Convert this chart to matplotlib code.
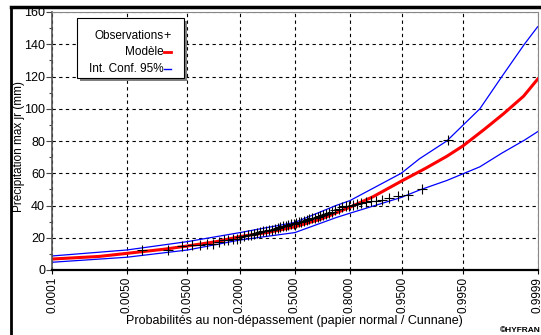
import matplotlib
matplotlib.use("Agg")
import matplotlib.pyplot as plt
from matplotlib.patches import Rectangle
from matplotlib.lines import Line2D
from statistics import NormalDist

plt.rcParams['font.family'] = ['Liberation Sans', 'DejaVu Sans']

# tick probabilities on the normal-probability axis
prob_ticks = [0.0001, 0.005, 0.05, 0.2, 0.5, 0.8, 0.95, 0.995, 0.9999]
prob_labels = ['0.0001', '0.0050', '0.0500', '0.2000', '0.5000',
               '0.8000', '0.9500', '0.9950', '0.9999']

# fitted model quantiles (mm)
model_p = [0.0001, 0.00135, 0.005, 0.0228, 0.05, 0.1151, 0.2, 0.3446, 0.5,
           0.6554, 0.8, 0.8849, 0.95, 0.9772, 0.99, 0.995, 0.9981, 0.99931,
           0.99977, 0.9999]
model_q = [6.8, 8.4, 10.3, 12.9, 14.9, 17.6, 20.7, 23.4, 26.8,
           31.6, 38.9, 45.5, 55.4, 63.0, 70.5, 77.0, 87.0, 97.0,
           107.8, 118.4]

# 95% confidence bounds (mm)
ci_p = [0.0001, 0.005, 0.05, 0.2, 0.5, 0.736, 0.8, 0.9484, 0.9719, 0.99,
        0.9977, 0.99924, 0.99978, 0.9999]
upper_q = [8.7, 12.4, 17.6, 23.2, 29.5, 40.0, 43.0, 60.0, 69.0, 80.0,
           100.0, 120.0, 140.0, 150.9]
lower_q = [4.8, 7.9, 12.4, 18.6, 23.2, 32.5, 35.2, 45.0, 49.6, 55.5,
           64.0, 72.5, 80.5, 85.8]

# annual max daily precipitation, sorted (mm)
obs = [12.4, 12.4, 15.0, 15.5, 15.5, 16.0, 16.0, 17.5, 18.5, 18.5,
       19.0, 19.5, 20.5, 21.0, 21.5, 22.0, 22.5, 23.0, 23.5, 24.0,
       24.0, 24.5, 25.0, 25.5, 26.0, 26.5, 27.0, 27.5, 28.0, 28.5,
       28.8, 29.0, 29.5, 30.0, 30.5, 31.0, 31.5, 32.0, 32.5, 33.0,
       33.5, 34.0, 35.0, 35.5, 36.0, 37.0, 38.0, 39.0, 39.5, 40.0,
       40.5, 41.0, 41.5, 42.0, 42.5, 43.0, 43.5, 44.8, 45.9, 46.5,
       50.2, 80.6]

z = NormalDist().inv_cdf
n = len(obs)
# Cunnane plotting positions
obs_p = [(i - 0.4) / (n + 0.2) for i in range(1, n + 1)]

fig = plt.figure(figsize=(5.41, 3.35), dpi=100)
ax = fig.add_axes([52 / 541, 1 - 270 / 335, (537.7 - 52) / 541, (270 - 12) / 335])

ax.plot([z(p) for p in ci_p], upper_q, color='#0000ff', lw=0.9)
ax.plot([z(p) for p in ci_p], lower_q, color='#0000ff', lw=0.9)
ax.plot([z(p) for p in model_p], model_q, color='#ff0000', lw=2.2)
ax.plot([z(p) for p in obs_p], obs, ls='none', marker='+', color='black',
        ms=7, mew=0.8)

ax.set_xlim(z(0.0001), z(0.9999))
ax.set_ylim(0, 160)
ax.set_xticks([z(p) for p in prob_ticks])
ax.set_xticklabels(prob_labels, rotation=90, fontsize=8.5)
ax.set_yticks(range(0, 161, 20))
ax.set_yticks(range(10, 161, 20), minor=True)
ax.tick_params(axis='y', labelsize=9, length=4, width=0.8, pad=1, color='#444444')
ax.tick_params(axis='y', which='minor', length=2, width=0.8, color='#444444')
ax.tick_params(axis='x', length=3, width=0.8, pad=2)
ax.grid(True, color='black', ls=(0, (3, 3)), lw=0.8)

for side in ['top', 'right']:
    ax.spines[side].set_color('#888888')
    ax.spines[side].set_linewidth(0.8)
ax.spines['left'].set_color('#555555')
ax.spines['left'].set_linewidth(1.2)
ax.spines['bottom'].set_linewidth(1.6)

ax.set_xlabel('Probabilités au non-dépassement (papier normal / Cunnane)',
              fontsize=9, labelpad=1)


def px(x, y):
    return (x / 541, 1 - y / 335)


fig.text(*px(19, 146), 'Précipitation max jr (mm)', rotation=90,
         ha='center', va='center', fontsize=8.5)

# legend box drawn by hand, labels right aligned with symbols after them
fig.patches.append(Rectangle(px(80, 81), 107 / 541, 60 / 335, transform=fig.transFigure,
                             facecolor='#808080', edgecolor='none', zorder=5))
fig.patches.append(Rectangle(px(77, 78), 107 / 541, 60 / 335, transform=fig.transFigure,
                             facecolor='white', edgecolor='black', lw=0.8, zorder=6))
leg_rows = [('Observations', 36, 'black', '+'),
            ('Modèle', 52, '#ff0000', '-'),
            ('Int. Conf. 95%', 69, '#0000ff', '-')]
for label, y, col, sym in leg_rows:
    fig.text(*px(164, y), label, ha='right', va='center', fontsize=8.5, zorder=7)
    if sym == '+':
        fig.text(*px(163, y), '+', ha='left', va='center', fontsize=9, zorder=7)
    else:
        fig.lines.append(Line2D([164 / 541, 171 / 541], [1 - y / 335] * 2,
                                transform=fig.transFigure, color=col,
                                lw=2 if col == '#ff0000' else 1, zorder=7))

# outer frame lines
fig.lines.append(Line2D([11 / 541, 11 / 541], [0, 1 - 7 / 335], transform=fig.transFigure,
                        color='black', lw=2))
fig.lines.append(Line2D([11 / 541, 1], [1 - 7 / 335] * 2, transform=fig.transFigure,
                        color='black', lw=2.5))

fig.text(*px(500, 330), '©HYFRAN', fontsize=6, fontweight='bold', va='center', ha='left')

fig.savefig('out.png', dpi=100)
